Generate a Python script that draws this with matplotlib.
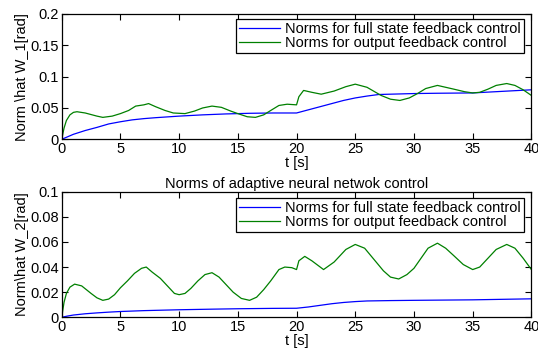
import matplotlib
matplotlib.use("Agg")
import matplotlib.pyplot as plt

plt.rcParams['font.family'] = ['Liberation Sans', 'DejaVu Sans']
plt.rcParams['font.size'] = 10.5

# Top panel: W_1 norms
t1_out = [0, 0.2, 0.4, 0.7, 1.0, 1.3, 2.0, 3.0, 3.5, 4.3, 5.0, 5.7, 6.3, 7.0, 7.4, 8.0, 8.8, 9.5, 10.5,
          11.3, 12.0, 12.8, 13.6, 14.4, 15.0, 15.8, 16.5, 17.2, 17.8, 18.5, 19.2, 20.0, 20.2, 20.6,
          21.3, 22.1, 23.2, 24.2, 25.0, 26.0, 27.2, 28.0, 28.8, 29.6, 30.3, 31.0, 32.0, 32.7, 33.4,
          34.3, 35.0, 35.6, 36.3, 37.0, 37.9, 38.6, 39.3, 40.0]
w1_out = [0, 0.018, 0.030, 0.039, 0.043, 0.044, 0.042, 0.037, 0.035, 0.037, 0.041, 0.046, 0.053, 0.055,
          0.057, 0.052, 0.046, 0.042, 0.041, 0.045, 0.050, 0.053, 0.051, 0.045, 0.041, 0.036, 0.035,
          0.039, 0.046, 0.054, 0.056, 0.055, 0.068, 0.078, 0.075, 0.072, 0.077, 0.084, 0.088, 0.083,
          0.070, 0.064, 0.062, 0.066, 0.073, 0.081, 0.086, 0.083, 0.080, 0.076, 0.074, 0.075, 0.080,
          0.086, 0.089, 0.086, 0.079, 0.070]
t1_full = [0, 0.5, 1, 1.5, 2, 3, 4, 5, 6, 7, 8, 10, 12, 14, 16, 18, 20, 21, 22, 23, 24, 25, 26, 27,
           28, 30, 32, 35, 37, 40]
w1_full = [0, 0.004, 0.008, 0.011, 0.014, 0.019, 0.0245, 0.028, 0.031, 0.033, 0.0345, 0.037, 0.039,
           0.0405, 0.0415, 0.042, 0.042, 0.047, 0.052, 0.057, 0.062, 0.066, 0.069, 0.0715, 0.072,
           0.073, 0.0735, 0.074, 0.076, 0.079]

# Bottom panel: W_2 norms
t2_out = [0, 0.2, 0.4, 0.7, 1.1, 1.7, 2.5, 3.0, 3.5, 4.0, 4.5, 5.0, 5.6, 6.2, 6.8, 7.2, 7.7, 8.4,
          9.0, 9.6, 10.0, 10.5, 11.0, 11.6, 12.2, 12.8, 13.4, 14.0, 14.6, 15.3, 16.0, 16.6, 17.2,
          17.8, 18.5, 19.0, 19.6, 20.0, 20.2, 20.7, 21.3, 22.3, 23.2, 24.2, 25.0, 25.8, 26.6, 27.4,
          28.0, 28.7, 29.4, 30.0, 30.6, 31.2, 32.0, 32.7, 33.4, 34.2, 35.0, 35.6, 36.3, 37.0, 37.9,
          38.6, 39.3, 40.0]
w2_out = [0, 0.012, 0.019, 0.024, 0.0264, 0.025, 0.019, 0.0155, 0.0135, 0.0145, 0.018, 0.0235, 0.029,
          0.035, 0.039, 0.040, 0.036, 0.031, 0.025, 0.019, 0.018, 0.019, 0.023, 0.029, 0.034, 0.0355,
          0.032, 0.026, 0.020, 0.015, 0.0135, 0.016, 0.022, 0.029, 0.038, 0.040, 0.0395, 0.038, 0.045,
          0.0485, 0.045, 0.038, 0.044, 0.054, 0.058, 0.055, 0.046, 0.037, 0.032, 0.0305, 0.034, 0.039,
          0.047, 0.055, 0.059, 0.055, 0.049, 0.042, 0.038, 0.040, 0.047, 0.054, 0.058, 0.055, 0.047,
          0.038]
t2_full = [0, 0.5, 1, 2, 3, 4, 5, 7, 10, 13, 15, 18, 20, 21, 22, 23, 24, 25, 26, 28, 30, 35, 40]
w2_full = [0, 0.001, 0.0018, 0.0028, 0.0035, 0.0041, 0.0046, 0.0053, 0.006, 0.0065, 0.0068, 0.0071,
           0.0072, 0.0082, 0.0095, 0.0108, 0.0118, 0.0125, 0.013, 0.0133, 0.0135, 0.0139, 0.0147]

labels = ["Norms for full state feedback control", "Norms for output feedback control"]
title2 = "Norms of adaptive neural netwok control"
xticks = [0, 5, 10, 15, 20, 25, 30, 35, 40]
yticks1 = [0, 0.05, 0.1, 0.15, 0.2]
yticks2 = [0, 0.02, 0.04, 0.06, 0.08, 0.1]
ytl1 = ["0", "0.05", "0.1", "0.15", "0.2"]
ytl2 = ["0", "0.02", "0.04", "0.06", "0.08", "0.1"]

fig = plt.figure(figsize=(5.38, 3.54), dpi=100)
ax1 = fig.add_axes([0.1147, 0.6065, 0.873, 0.354])
ax2 = fig.add_axes([0.1147, 0.1037, 0.873, 0.3548])

blue = '#0000ff'
green = '#008000'

def style(ax, yt, ytl, ylim):
    ax.set_xlim(0, 40)
    ax.set_ylim(*ylim)
    ax.set_xticks(xticks)
    ax.set_yticks(yt)
    ax.set_yticklabels(ytl)
    ax.tick_params(direction='in', top=True, right=True, length=4, width=0.8, labelsize=10.5, pad=2)
    for s in ax.spines.values():
        s.set_linewidth(0.9)
    ax.set_xlabel("t [s]", labelpad=0)

def add_legend(ax, anchor_y):
    leg = ax.legend(loc='upper right', bbox_to_anchor=(0.984, anchor_y), fancybox=False, framealpha=1,
                    edgecolor='black', borderpad=0.2, labelspacing=0.0, handlelength=2.8,
                    handletextpad=0.35, borderaxespad=0)
    leg.get_frame().set_linewidth(0.9)
    return leg

ax1.plot(t1_full, w1_full, color=blue, lw=0.9, label=labels[0])
ax1.plot(t1_out, w1_out, color=green, lw=0.9, label=labels[1])
style(ax1, yticks1, ytl1, (0, 0.2))
ax1.set_ylabel("Norm \\hat W_1[rad]", labelpad=1)
add_legend(ax1, 0.962)

ax2.plot(t2_full, w2_full, color=blue, lw=0.9, label=labels[0])
ax2.plot(t2_out, w2_out, color=green, lw=0.9, label=labels[1])
style(ax2, yticks2, ytl2, (0, 0.1))
ax2.set_ylabel("Norm\\hat W_2[rad]", labelpad=1)
ax2.set_title(title2, fontsize=10.5, pad=3)
add_legend(ax2, 0.952)

fig.savefig("out.png", dpi=100)
